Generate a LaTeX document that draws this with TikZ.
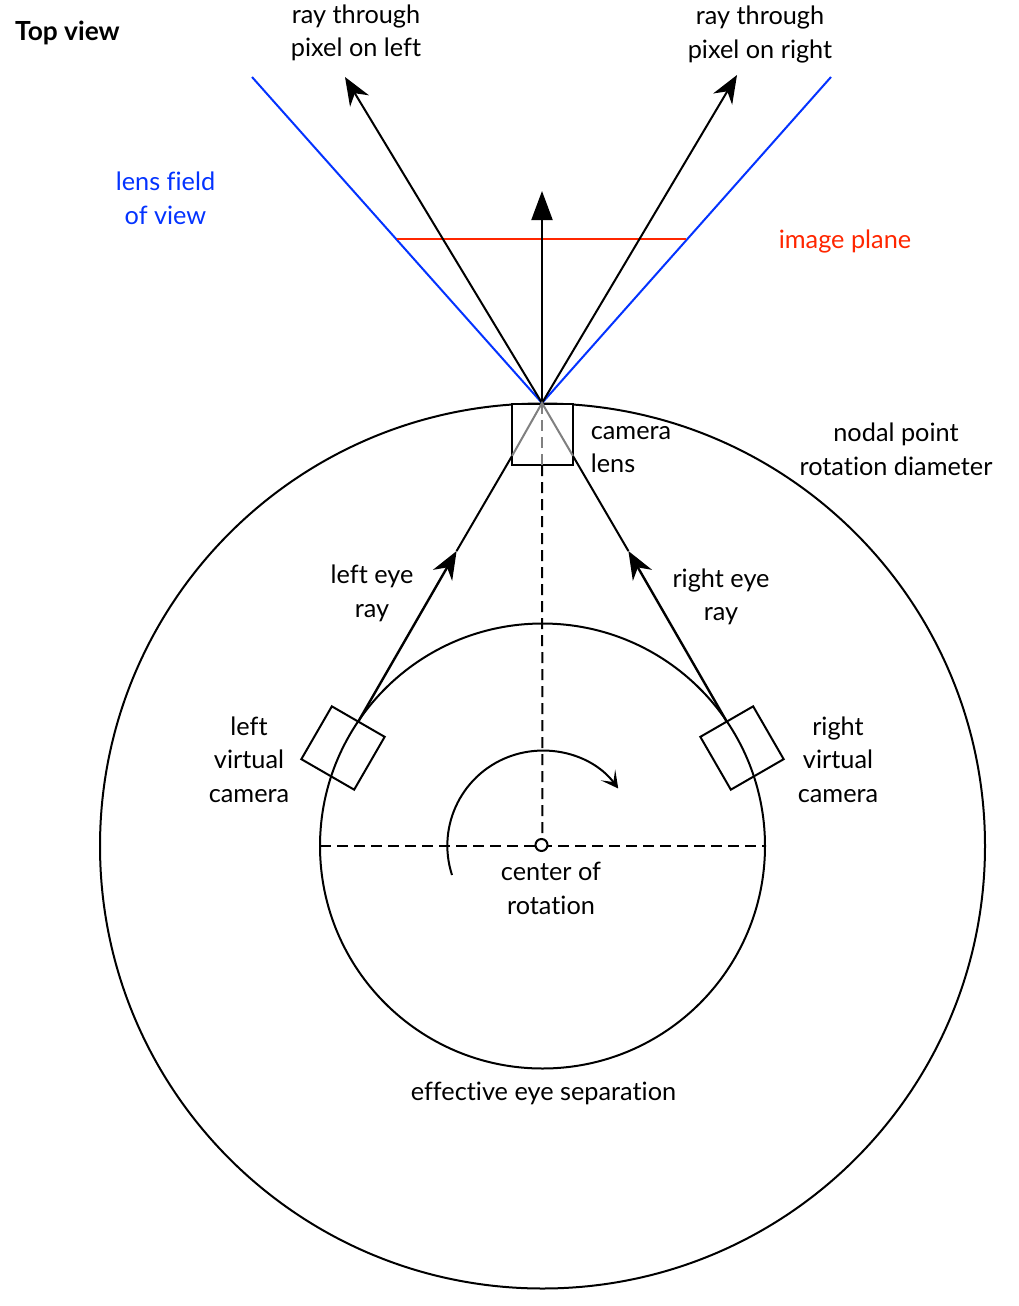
\documentclass[tikz,border=0pt]{standalone}
\usepackage{fontspec}
\setmainfont{Lato}[Ligatures=NoCommon]
\usetikzlibrary{arrows.meta,calc}
\definecolor{lensblue}{HTML}{0433FF}
\definecolor{planered}{HTML}{FF2600}
\tikzset{
  lbl/.style={align=center,inner sep=0pt,font=\fontsize{25.3}{33.6}\selectfont},
  ink/.style={draw=black,line width=2pt},
  bigbarb/.style={-{Stealth[length=28pt,width=22pt,inset=9pt]}},
  dash line/.style={ink,dash pattern=on 11pt off 6pt},
  cam/.style={draw=black,line width=2pt,minimum size=61pt,inner sep=0pt,outer sep=0pt,shape=rectangle},
}
\begin{document}
\begin{tikzpicture}[x=1pt,y=-1pt]
\useasboundingbox (0,0) rectangle (1019,1306);
\coordinate (c) at (542.5,846);
\coordinate (apex) at (542,403);
\coordinate (fovl) at (252,77);
\coordinate (fovr) at (831,77);
\coordinate (planel) at (397,239);
\coordinate (planer) at (686,239);
\coordinate (tipl) at (345,77);
\coordinate (tipr) at (737,75);
\coordinate (tipc) at (542,191);
\coordinate (headl) at (456.6,551);
\coordinate (headr) at (628.4,551);
\coordinate (entryl) at (512,456);
\coordinate (entryr) at (573,456);
\coordinate (lensbot) at (542,465);
\coordinate (ew) at (320,846);
\coordinate (ee) at (765,846);
\coordinate (rotstart) at (452,875);

% circles
\draw[ink] (c) circle[radius=442.5pt];
\draw[ink] (c) circle[radius=222.5pt];

% field of view and image plane
\draw[draw=lensblue,line width=2pt] (fovl) -- (apex) -- (fovr);
\draw[draw=planered,line width=2pt] (planel) -- (planer);

% rays in front of the lens
\draw[ink,bigbarb] (apex) -- (tipl);
\draw[ink,bigbarb] (apex) -- (tipr);
\draw[ink,-{Triangle[length=29pt,width=21pt]}] (apex) -- (tipc);

% lens
\node[cam,fill=white] (lens) at (542.5,434) {};
\draw[gray,line width=2pt] (entryl) -- (apex) -- (entryr);
\draw[gray,line width=2pt,dash pattern=on 11pt off 6pt] (apex) -- (lensbot);

% virtual cameras
\node[cam,rotate=-30] (leftcam) at (343,748) {};
\node[cam,rotate=30] (rightcam) at (742,748) {};

% eye rays
\draw[ink,line width=2.4pt,bigbarb] (leftcam.north) -- (headl);
\draw[ink] (headl) -- (entryl);
\draw[ink,line width=2.4pt,bigbarb] (rightcam.north) -- (headr);
\draw[ink] (headr) -- (entryr);

% dashed axes
\draw[dash line] (lensbot) -- (c);
\draw[dash line] (ew) -- (ee);

% rotation arrow
\draw[ink,-{Stealth[length=17pt,width=18pt,inset=9pt]}] (rotstart) arc[start angle=198,end angle=37,radius=95pt];
\node[circle,draw=black,fill=white,line width=2pt,minimum size=12pt,inner sep=0pt] (centre) at (541.5,845) {};

% labels
\node[lbl,anchor=west,font=\fontsize{26.3}{33}\selectfont\bfseries] (topview) at (15,32.5) {Top view};
\node[lbl] (raylefttxt) at (356,33) {ray through\\pixel on left};
\node[lbl] (rayrighttxt) at (760,34.5) {ray through\\pixel on right};
\node[lbl,text=lensblue] (fovtxt) at (165.5,198.5) {lens field\\of view};
\node[lbl,text=planered] (planetxt) at (845,241.5) {image plane};
\node[lbl,align=left] (lenstxt) at (631,449.5) {camera\\lens};
\node[lbl] (nodaltxt) at (896,449) {nodal point\\rotation diameter};
\node[lbl] (lefteyetxt) at (372,593.5) {left eye\\ray};
\node[lbl] (righteyetxt) at (721,597) {right eye\\ray};
\node[lbl] (leftcamtxt) at (249,759.5) {left\\virtual\\camera};
\node[lbl] (rightcamtxt) at (838,759.5) {right\\virtual\\camera};
\node[lbl] (centretxt) at (551,888.5) {center of\\rotation};
\node[lbl] (septxt) at (543.5,1093.5) {effective eye separation};
\end{tikzpicture}
\end{document}
